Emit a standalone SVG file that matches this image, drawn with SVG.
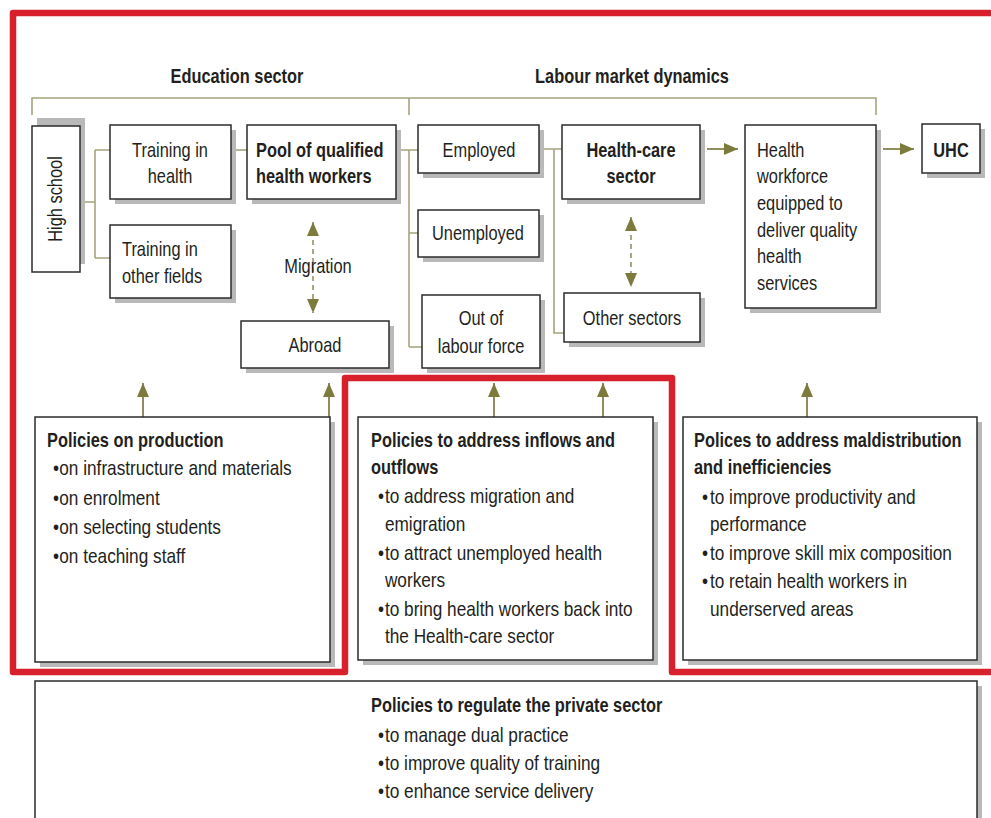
<svg xmlns="http://www.w3.org/2000/svg" width="991" height="818" viewBox="0 0 991 818">
<style>
text{font-family:'Liberation Sans',Arial,sans-serif;font-size:20px;fill:#231f20}
.b{font-weight:bold}
.c{text-anchor:middle}
.p{font-size:21px}
.box{fill:#fff;stroke:#2b2b2b;stroke-width:1.5}
.sh{fill:#b9b9b9}
.ln{fill:none;stroke:#a6a47c;stroke-width:1.6}
.ar{fill:none;stroke:#8f8d62;stroke-width:2}
.da{fill:none;stroke:#a9a77f;stroke-width:2;stroke-dasharray:5 4}
</style>
<defs>
<marker id="ah" viewBox="0 0 14 12" refX="14" refY="6" markerWidth="14" markerHeight="12" markerUnits="userSpaceOnUse" orient="auto-start-reverse">
<path d="M0,0 L14,6 L0,12 z" fill="#7c7b3b"/>
</marker>
</defs>
<rect width="991" height="818" fill="#fff"/>

<g id="connectors">
<path class="ln" d="M32,115 V98 H876 V115 M409,98 V115"/>
<path class="ln" d="M80,202 H95 M95,150 V258 M95,150 H110 M95,258 H110"/>
<path class="ln" d="M231,150 H247"/>
<path class="ln" d="M396,150 H418 M409,150 V347 M409,233 H418 M409,347 H422"/>
<path class="ln" d="M539,149 H562 M554,149 V333 H564"/>
<line class="ar" x1="707" y1="149" x2="738" y2="149" marker-end="url(#ah)"/>
<line class="ar" x1="883" y1="149" x2="914" y2="149" marker-end="url(#ah)"/>
<line class="da" x1="313" y1="222" x2="313" y2="313" marker-start="url(#ah)" marker-end="url(#ah)"/>
<line class="da" x1="631" y1="217" x2="631" y2="287" marker-start="url(#ah)" marker-end="url(#ah)"/>
<line class="ar" x1="143" y1="417" x2="143" y2="383" marker-end="url(#ah)"/>
<line class="ar" x1="329" y1="417" x2="329" y2="383" marker-end="url(#ah)"/>
<line class="ar" x1="494" y1="417" x2="494" y2="383" marker-end="url(#ah)"/>
<line class="ar" x1="603" y1="417" x2="603" y2="383" marker-end="url(#ah)"/>
<line class="ar" x1="807" y1="417" x2="807" y2="383" marker-end="url(#ah)"/>
</g>

<g id="headers">
<g transform="translate(237,0) scale(.82,1)"><text class="b c" x="0" y="83">Education sector</text></g>
<g transform="translate(632,0) scale(.82,1)"><text class="b c" x="0" y="83">Labour market dynamics</text></g>
</g>

<g id="high-school">
<rect class="sh" x="37" y="118" width="48" height="146"/>
<rect class="box" x="32" y="126" width="48" height="146"/>
<text class="c" transform="translate(62,199) rotate(-90) scale(.82,1)">High school</text>
</g>

<g id="training-health">
<rect class="sh" x="115" y="130" width="121" height="74"/>
<rect class="box" x="110" y="125" width="121" height="74"/>
<g transform="translate(170,0) scale(.82,1)">
<text class="c" x="0" y="157">Training in</text>
<text class="c" x="0" y="183">health</text>
</g>
</g>

<g id="training-other">
<rect class="sh" x="115" y="230" width="121" height="73"/>
<rect class="box" x="110" y="225" width="121" height="73"/>
<g transform="translate(122,0) scale(.82,1)">
<text x="0" y="256">Training in</text>
<text x="0" y="283">other fields</text>
</g>
</g>

<g id="pool">
<rect class="sh" x="252" y="130" width="149" height="74"/>
<rect class="box" x="247" y="125" width="149" height="74"/>
<g transform="translate(256,0) scale(.82,1)">
<text class="b" x="0" y="157">Pool of qualified</text>
<text class="b" x="0" y="183">health workers</text>
</g>
</g>

<g id="migration">
<g transform="translate(318,0) scale(.82,1)"><text class="c" x="0" y="273">Migration</text></g>
</g>

<g id="abroad">
<rect class="sh" x="246" y="326" width="148" height="47"/>
<rect class="box" x="241" y="321" width="148" height="47"/>
<g transform="translate(315,0) scale(.82,1)"><text class="c" x="0" y="352">Abroad</text></g>
</g>

<g id="employed">
<rect class="sh" x="423" y="130" width="121" height="48"/>
<rect class="box" x="418" y="125" width="121" height="48"/>
<g transform="translate(479,0) scale(.82,1)"><text class="c" x="0" y="157">Employed</text></g>
</g>

<g id="unemployed">
<rect class="sh" x="423" y="215" width="121" height="47"/>
<rect class="box" x="418" y="210" width="121" height="47"/>
<g transform="translate(478,0) scale(.82,1)"><text class="c" x="0" y="240">Unemployed</text></g>
</g>

<g id="out-of-labour">
<rect class="sh" x="427" y="300" width="118" height="73"/>
<rect class="box" x="422" y="295" width="118" height="73"/>
<g transform="translate(481,0) scale(.82,1)">
<text class="c" x="0" y="325">Out of</text>
<text class="c" x="0" y="353">labour force</text>
</g>
</g>

<g id="health-care">
<rect class="sh" x="567" y="130" width="138" height="74"/>
<rect class="box" x="562" y="125" width="138" height="74"/>
<g transform="translate(631,0) scale(.82,1)">
<text class="b c" x="0" y="157">Health-care</text>
<text class="b c" x="0" y="183">sector</text>
</g>
</g>

<g id="other-sectors">
<rect class="sh" x="569" y="298" width="136" height="49"/>
<rect class="box" x="564" y="293" width="136" height="49"/>
<g transform="translate(632,0) scale(.82,1)"><text class="c" x="0" y="325">Other sectors</text></g>
</g>

<g id="workforce">
<rect class="sh" x="750" y="130" width="131" height="183"/>
<rect class="box" x="745" y="125" width="131" height="183"/>
<g transform="translate(757,0) scale(.82,1)">
<text x="0" y="157">Health</text>
<text x="0" y="183">workforce</text>
<text x="0" y="210">equipped to</text>
<text x="0" y="237">deliver quality</text>
<text x="0" y="263">health</text>
<text x="0" y="290">services</text>
</g>
</g>

<g id="uhc">
<rect class="sh" x="927" y="129" width="58" height="49"/>
<rect class="box" x="922" y="124" width="58" height="49"/>
<g transform="translate(951,0) scale(.82,1)"><text class="b c" x="0" y="157">UHC</text></g>
</g>

<g id="policies-production">
<rect class="sh" x="40" y="422" width="295" height="245"/>
<rect class="box" x="35" y="417" width="295" height="245"/>
<g transform="translate(47,0) scale(.82,1)">
<text class="b" x="0" y="447">Policies on production</text>
<text class="p" x="7.3" y="475">•<tspan x="15">on infrastructure and materials</tspan></text>
<text class="p" x="7.3" y="505">•<tspan x="15">on enrolment</tspan></text>
<text class="p" x="7.3" y="534">•<tspan x="15">on selecting students</tspan></text>
<text class="p" x="7.3" y="563">•<tspan x="15">on teaching staff</tspan></text>
</g>
</g>

<g id="policies-inflows">
<rect class="sh" x="363" y="422" width="295" height="243"/>
<rect class="box" x="358" y="417" width="295" height="243"/>
<g transform="translate(371,0) scale(.82,1)">
<text class="b" x="0" y="447">Policies to address inflows and</text>
<text class="b" x="0" y="474">outflows</text>
<text class="p" x="8.5" y="503">•<tspan x="17">to address migration and</tspan></text>
<text class="p" x="17" y="531">emigration</text>
<text class="p" x="8.5" y="560">•<tspan x="17">to attract unemployed health</tspan></text>
<text class="p" x="17" y="587">workers</text>
<text class="p" x="8.5" y="616">•<tspan x="17">to bring health workers back into</tspan></text>
<text class="p" x="17" y="643">the Health-care sector</text>
</g>
</g>

<g id="policies-maldistribution">
<rect class="sh" x="688" y="422" width="294" height="243"/>
<rect class="box" x="683" y="417" width="294" height="243"/>
<g transform="translate(694,0) scale(.82,1)">
<text class="b" x="0" y="447">Polices to address maldistribution</text>
<text class="b" x="0" y="474">and inefficiencies</text>
<text class="p" x="9.7" y="504">•<tspan x="19.5">to improve productivity and</tspan></text>
<text class="p" x="19.5" y="531">performance</text>
<text class="p" x="9.7" y="560">•<tspan x="19.5">to improve skill mix composition</tspan></text>
<text class="p" x="9.7" y="588">•<tspan x="19.5">to retain health workers in</tspan></text>
<text class="p" x="19.5" y="616">underserved areas</text>
</g>
</g>

<g id="policies-private">
<rect class="sh" x="40" y="686" width="942" height="150"/>
<rect class="box" x="35" y="681" width="942" height="150"/>
<g transform="translate(371,0) scale(.82,1)">
<text class="b" x="0" y="712">Policies to regulate the private sector</text>
<text class="p" x="8.5" y="742">•<tspan x="17">to manage dual practice</tspan></text>
<text class="p" x="8.5" y="770">•<tspan x="17">to improve quality of training</tspan></text>
<text class="p" x="8.5" y="798">•<tspan x="17">to enhance service delivery</tspan></text>
</g>
</g>

<g id="highlight">
<path d="M998,13 H13 V672 H345 V378 H672 V672 H998" fill="none" stroke="#d7202c" stroke-width="6.5" stroke-linejoin="round"/>
</g>
</svg>
